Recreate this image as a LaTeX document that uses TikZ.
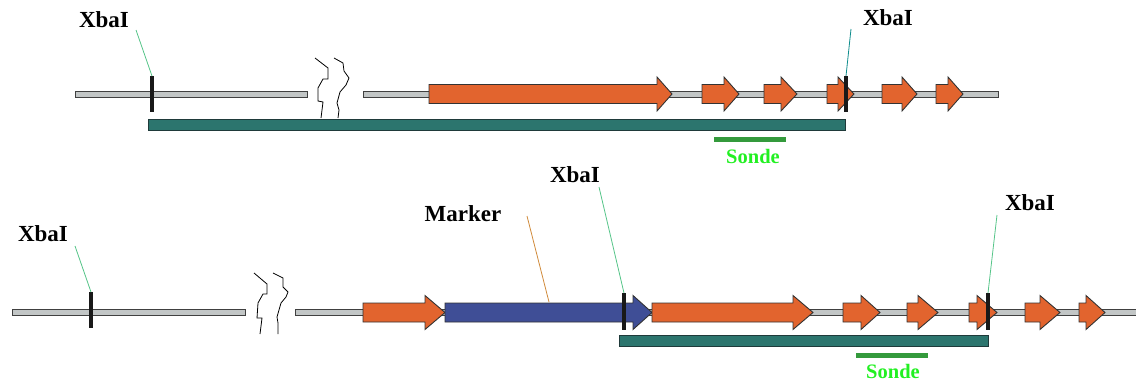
\documentclass[tikz,border=0pt]{standalone}
\usepackage{fontspec}
\setmainfont{Liberation Serif}
\definecolor{geneor}{HTML}{E2642E}
\definecolor{geneblue}{HTML}{3F4E96}
\definecolor{tealbar}{HTML}{2C756E}
\definecolor{tealedge}{HTML}{1F3A3A}
\definecolor{bbfill}{HTML}{C2C6C6}
\definecolor{bbedge}{HTML}{404040}
\definecolor{sondebar}{HTML}{349A3C}
\definecolor{sondetxt}{HTML}{22F022}
\definecolor{lgreen}{HTML}{55C488}
\definecolor{tealline}{HTML}{0E8C8C}
\definecolor{markline}{HTML}{D08A3A}
\tikzset{
  backbone/.style={fill=bbfill,draw=bbedge,line width=1pt},
  genebox/.style={draw=black!80,line width=0.9pt},
  cutmark/.style={line width=3.3pt,black!90},
  fragment/.style={fill=tealbar,draw=tealedge,line width=0.9pt},
  probe/.style={line width=5pt,sondebar},
  lbl/.style={font=\bfseries\fontsize{23}{26}\selectfont,inner sep=0pt},
  sondelbl/.style={font=\bfseries\fontsize{20.5}{24}\selectfont,text=sondetxt,inner sep=0pt},
  squig/.style={line width=0.8pt,black},
  callout/.style={line width=0.8pt},
}
% \genearrow{x1}{xhead}{xtip}{ycenter}{fill}
\newcommand{\genearrow}[5]{%
  \draw[genebox,fill=#5] (#1,#4-9.5) -- (#2,#4-9.5) -- (#2,#4-17) -- (#3,#4) -- (#2,#4+17) -- (#2,#4+9.5) -- (#1,#4+9.5) -- cycle;}
\begin{document}
\begin{tikzpicture}[x=1pt,y=-1pt]
\useasboundingbox (0,0) rectangle (1136,381);
% ===== top row =====
\draw[backbone] (75,91) rectangle (307,97);
\draw[backbone] (363,91) rectangle (998,97);
\draw[squig] (315,58) -- (328,68) -- (328,79) -- (323,79) -- (318,88) -- (318,101) -- (323,102) -- (321,118);
\draw[squig] (334,58) -- (343,63) -- (344,71) -- (349,78) -- (346,85) -- (340,92) -- (337,103) -- (339,110) -- (338,118);
\draw[fragment] (148,119) rectangle (845,130);
\genearrow{429}{657}{672}{94}{geneor}
\genearrow{702}{724}{739}{94}{geneor}
\genearrow{764}{781}{797}{94}{geneor}
\genearrow{827}{838}{854}{94}{geneor}
\genearrow{882}{902}{917}{94}{geneor}
\genearrow{936}{948}{963}{94}{geneor}
\coordinate (t1) at (152,76);
\coordinate (t2) at (846,76);
\draw[cutmark] (t1) -- (152,112);
\draw[cutmark] (t2) -- (846,112);
\node[lbl] (x1) at (104,20) {XbaI};
\node[lbl] (x2) at (888,18) {XbaI};
\coordinate (x1s) at (136,30);
\coordinate (x2s) at (851,29);
\draw[callout,lgreen] (x1s) -- (t1);
\draw[callout,tealline] (x2s) -- (t2);
\draw[probe] (714,139.5) -- (786,139.5);
\node[sondelbl] (s1) at (753,156) {Sonde};
% ===== bottom row =====
\draw[backbone] (12,309.5) rectangle (245,315.5);
\draw[backbone] (295,309.5) rectangle (1140,315.5);
\draw[squig] (254,273) -- (267,284) -- (267,294) -- (263,294) -- (258,303) -- (257,318) -- (262,318) -- (260,334);
\draw[squig] (273,273) -- (283,278) -- (283,287) -- (288,292) -- (286,297) -- (281,303) -- (277,317) -- (278,323) -- (278,334);
\draw[fragment] (619,335) rectangle (988,346);
\genearrow{363}{425}{445}{312.5}{geneor}
\genearrow{445}{633}{652}{312.5}{geneblue}
\genearrow{652}{793}{813}{312.5}{geneor}
\genearrow{843}{861}{880}{312.5}{geneor}
\genearrow{907}{918}{938}{312.5}{geneor}
\genearrow{969}{977}{997}{312.5}{geneor}
\genearrow{1025}{1040}{1060}{312.5}{geneor}
\genearrow{1079}{1086}{1105}{312.5}{geneor}
\coordinate (b1) at (91,292);
\coordinate (b2) at (624,293);
\coordinate (b3) at (988,293);
\coordinate (mk) at (549,302);
\draw[cutmark] (b1) -- (91,328);
\draw[cutmark] (b2) -- (624,330);
\draw[cutmark] (b3) -- (988,330);
\node[lbl] (y1) at (43,234) {XbaI};
\node[lbl] (y2) at (575,175) {XbaI};
\node[lbl] (y3) at (1030,203) {XbaI};
\node[lbl] (mkl) at (463,214) {Marker};
\coordinate (y1s) at (75,246);
\coordinate (y2s) at (599,187);
\coordinate (y3s) at (997,215);
\coordinate (mks) at (527,216);
\draw[callout,lgreen] (y1s) -- (b1);
\draw[callout,lgreen] (y2s) -- (b2);
\draw[callout,lgreen] (y3s) -- (b3);
\draw[callout,markline] (mks) -- (mk);
\draw[probe] (856,355) -- (928,355);
\node[sondelbl] (s2) at (893,371) {Sonde};
\end{tikzpicture}
\end{document}
